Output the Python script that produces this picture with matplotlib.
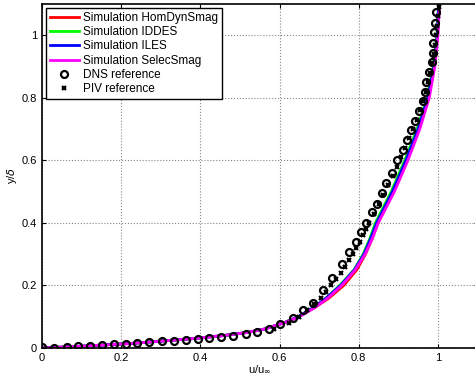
import matplotlib
matplotlib.use("Agg")
import matplotlib.pyplot as plt

plt.rcParams['font.family'] = ['Liberation Sans', 'DejaVu Sans']

# Simulation profiles (y/delta vs u/u_inf)
y_sim = [0, .005, .01, .015, .02, .03, .04, .05, .06, .08, .10, .13, .16, .20,
         .25, .30, .35, .40, .50, .60, .70, .80, .90, 1.0, 1.1]
u_homdyn = [0, .09, .16, .23, .28, .38, .46, .52, .56, .61, .648, .69, .725, .762,
            .795, .817, .834, .849, .888, .922, .952, .976, .991, .999, 1.003]
u_iddes = [0, .09, .16, .23, .28, .38, .46, .52, .56, .61, .648, .688, .718, .752,
           .788, .811, .828, .842, .882, .916, .947, .972, .988, .997, 1.002]
u_iles = [0, .09, .16, .23, .28, .38, .46, .52, .56, .61, .647, .686, .718, .754,
          .789, .813, .830, .845, .885, .919, .950, .974, .990, .998, 1.002]
u_selec = [0, .09, .16, .23, .28, .38, .46, .52, .56, .61, .650, .690, .722, .757,
           .791, .816, .834, .849, .890, .924, .954, .978, .992, 1.000, 1.004]

# DNS reference
u_dns = [0, .031, .062, .091, .121, .152, .181, .211, .240, .270, .302, .333,
         .363, .393, .423, .453, .483, .514, .544, .574, .602, .635, .660, .684,
         .709, .733, .757, .776, .792, .805, .818, .833, .846, .858, .870, .885,
         .897, .911, .921, .932, .942, .953, .963, .967, .971, .978, .984, .987,
         .988, .991, .992, .994]
y_dns = [.002, .001, .003, .005, .007, .010, .012, .014, .015, .019, .021, .023,
         .026, .030, .032, .034, .039, .045, .052, .061, .077, .095, .121, .145,
         .185, .225, .268, .308, .340, .370, .400, .434, .462, .494, .526, .560,
         .602, .633, .665, .696, .726, .758, .789, .819, .851, .883, .913, .943,
         .975, 1.009, 1.039, 1.073]

# PIV reference
u_piv = [.585, .625, .648, .668, .688, .705, .718, .730, .742, .754, .765, .775,
         .785, .794, .803, .811, .819, .827, .839, .851, .862, .874, .886, .897,
         .907, .917, .927, .937, .946, .955, .963, .970, .976, .981, .986, .990,
         .993, .996, .998, 1.000, 1.002]
y_piv = [.06, .08, .10, .12, .14, .16, .18, .20, .22, .24, .26, .28, .30, .32,
         .34, .36, .38, .40, .43, .46, .49, .52, .55, .58, .61, .64, .67, .70,
         .73, .76, .79, .82, .85, .88, .91, .94, .97, 1.00, 1.03, 1.06, 1.09]

fig = plt.figure(figsize=(4.75, 3.81), dpi=100)
ax = fig.add_axes([0.0884, 0.0866, 0.917, 0.903])

ax.plot(u_homdyn, y_sim, color='red', lw=2, label='Simulation HomDynSmag')
ax.plot(u_iddes, y_sim, color='#00ff00', lw=2, label='Simulation IDDES')
ax.plot(u_iles, y_sim, color='blue', lw=2, label='Simulation ILES')
ax.plot(u_selec, y_sim, color='magenta', lw=2, label='Simulation SelecSmag')
ax.plot(u_dns, y_dns, 'o', ms=5, mfc='none', mec='black', mew=1.6,
        label='DNS reference')
ax.plot(u_piv, y_piv, 'x', ms=3.5, color='black', mew=1.5,
        label='PIV reference')

ax.set_xlim(0, 1.1)
ax.set_ylim(0, 1.1)
ax.set_xticks([0, 0.2, 0.4, 0.6, 0.8, 1])
ax.set_xticklabels(['0', '0.2', '0.4', '0.6', '0.8', '1'])
ax.set_yticks([0, 0.2, 0.4, 0.6, 0.8, 1])
ax.set_yticklabels(['0', '0.2', '0.4', '0.6', '0.8', '1'])
ax.tick_params(direction='in', labelsize=8, length=3, top=True, right=True)
ax.grid(True, linestyle=':', color='#888888', lw=0.8)
for s in ax.spines.values():
    s.set_linewidth(1.2)

ax.set_xlabel(r'u/u$_{\infty}$', fontsize=8, labelpad=0)
ax.set_ylabel(r'y/$\delta$', fontsize=8, labelpad=2)

leg = ax.legend(loc='upper left', fontsize=8.5, fancybox=False, framealpha=1,
                edgecolor='black', borderpad=0.3, labelspacing=0.2,
                handlelength=2.5, handletextpad=0.35, borderaxespad=0.35)
leg.get_frame().set_linewidth(1.0)

fig.savefig('out.png', dpi=100)
